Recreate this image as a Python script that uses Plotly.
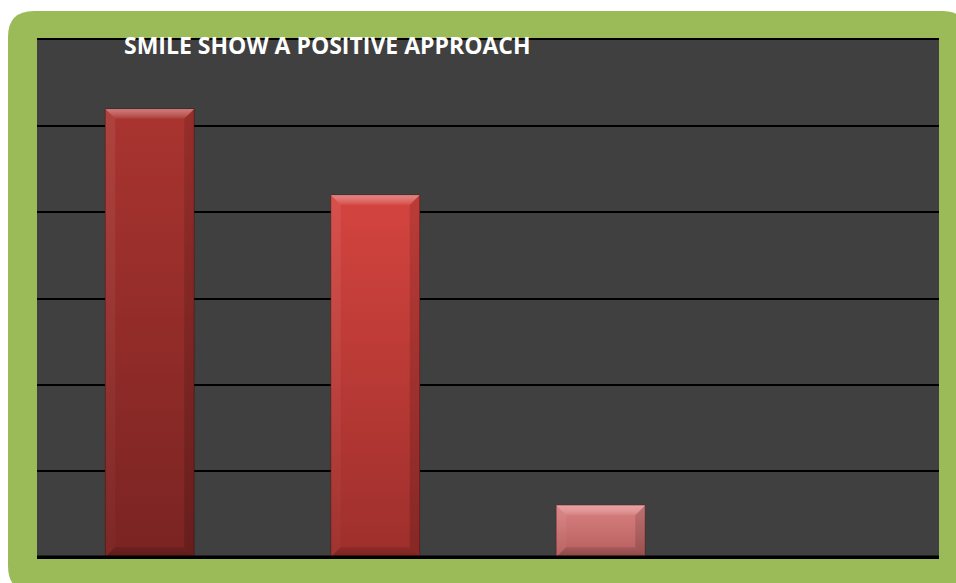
import plotly.graph_objects as go

# Survey responses (percent of respondents)
categories = ["Yes", "Somewhat", "No", "Can't say"]
values = [52, 42, 6, 0]

# Per-bar colours: (top, bottom) of the vertical gradient
bar_top = ["#AA3430", "#D4443F", "#DA8080"]
bar_bottom = ["#7A2422", "#9E2F2C", "#B65E5E"]

y_max = 60
y_step = 10

W, H = 956, 583
L, R, T, B = 37, 17, 40, 26
plot_w = W - L - R
plot_h = H - T - B

half = 0.197  # half bar width in category units
bev_x = 0.044  # bevel width in category units
bev_y = 1.15   # bevel height in value units

fig = go.Figure()

# Base bars
fig.add_trace(go.Bar(
    x=list(range(len(categories))),
    y=values,
    width=2 * half,
    marker=dict(color=bar_bottom + ["#000000"], line=dict(width=0)),
    hoverinfo="skip",
    showlegend=False,
))


def poly(xs, ys, colorscale, line_color="rgba(0,0,0,0)"):
    fig.add_trace(go.Scatter(
        x=xs + [xs[0]], y=ys + [ys[0]],
        mode="lines", fill="toself",
        line=dict(width=0.5, color=line_color),
        fillgradient=dict(type="vertical", colorscale=colorscale),
        hoverinfo="skip", showlegend=False,
    ))


for i, v in enumerate(values):
    if v <= 0:
        continue
    x0, x1 = i - half, i + half
    # body gradient
    poly([x0, x1, x1, x0], [0, 0, v, v],
         [[0, bar_bottom[i]], [1, bar_top[i]]], line_color="rgba(40,0,0,0.7)")
    # top bevel (highlight)
    poly([x0, x1, x1 - bev_x, x0 + bev_x], [v, v, v - bev_y, v - bev_y],
         [[0, "rgba(255,255,255,0.04)"], [1, "rgba(255,190,190,0.50)"]])
    # left bevel
    poly([x0, x0 + bev_x, x0 + bev_x, x0], [0, bev_y, v - bev_y, v],
         [[0, "rgba(255,255,255,0.02)"], [1, "rgba(255,255,255,0.07)"]])
    # right bevel (shade)
    poly([x1, x1 - bev_x, x1 - bev_x, x1], [0, bev_y, v - bev_y, v],
         [[0, "rgba(0,0,0,0.16)"], [1, "rgba(0,0,0,0.12)"]])
    # bottom bevel (shade)
    poly([x0, x1, x1 - bev_x, x0 + bev_x], [0, 0, bev_y, bev_y],
         [[0, "rgba(0,0,0,0.25)"], [1, "rgba(0,0,0,0.10)"]])


def P(px, py):
    x, y = (px - L) / plot_w, (H - B - py) / plot_h
    return f"{x:.5f},{y:.5f}"


# Green rounded frame behind the chart
fx0, fy0, fx1, fy1, rad = 8, 11, 968, 592, 26
path = (
    f"M {P(fx0 + rad, fy0)} L {P(fx1 - rad, fy0)} "
    f"Q {P(fx1, fy0)} {P(fx1, fy0 + rad)} "
    f"L {P(fx1, fy1 - rad)} Q {P(fx1, fy1)} {P(fx1 - rad, fy1)} "
    f"L {P(fx0 + rad, fy1)} Q {P(fx0, fy1)} {P(fx0, fy1 - rad)} "
    f"L {P(fx0, fy0 + rad)} Q {P(fx0, fy0)} {P(fx0 + rad, fy0)} Z"
)

fig.update_layout(
    width=W, height=H,
    margin=dict(l=L, r=R, t=T, b=B, pad=0),
    paper_bgcolor="white",
    plot_bgcolor="#404040",
    title=dict(
        text="<b>SMILE SHOW A POSITIVE APPROACH</b>",
        font=dict(family="Open Sans", size=23, color="white"),
        x=(124 - L) / plot_w, xref="paper", xanchor="left",
        y=1 - 46 / H, yref="container", yanchor="middle",
    ),
    xaxis=dict(range=[-0.5, len(categories) - 0.5], showticklabels=False,
               showgrid=False, zeroline=False, fixedrange=True,
               showline=True, mirror=True, linecolor="black", linewidth=2),
    yaxis=dict(range=[0, y_max], dtick=y_step, showticklabels=False,
               showgrid=True, gridcolor="black", gridwidth=2,
               zeroline=False, showline=False, fixedrange=True),
    bargap=0,
    shapes=[
        dict(type="path", path=path, xref="paper", yref="paper",
             fillcolor="#9BBB59", line=dict(width=0), layer="below"),
        dict(type="rect", xref="paper", yref="paper", x0=0, x1=1, y0=0, y1=1,
             fillcolor="#404040", line=dict(width=0), layer="below"),
        dict(type="line", xref="paper", yref="y", x0=0, x1=1, y0=0, y1=0,
             line=dict(color="black", width=3)),
    ],
)

fig.write_html("out.html")
